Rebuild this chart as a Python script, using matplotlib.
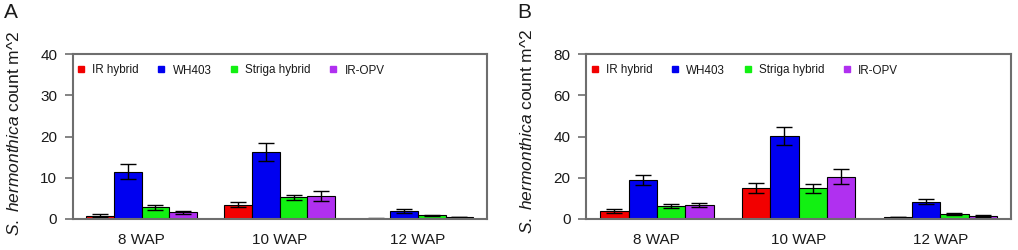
import matplotlib
matplotlib.use("Agg")
import matplotlib.pyplot as plt
from matplotlib.lines import Line2D
import numpy as np

plt.rcParams['font.family'] = ['Liberation Sans', 'DejaVu Sans']
plt.rcParams['mathtext.fontset'] = 'custom'
plt.rcParams['mathtext.it'] = 'Liberation Sans:italic'
plt.rcParams['mathtext.rm'] = 'Liberation Sans'

groups = ["8 WAP", "10 WAP", "12 WAP"]
series = ["IR hybrid", "WH403", "Striga hybrid", "IR-OPV"]
colors = ["#f20000", "#0000f0", "#12f012", "#b030f0"]

# Panel A values (rows = series, cols = groups)
a_vals = [[0.8, 3.5, 0.1],
          [11.5, 16.3, 2.0],
          [2.8, 5.3, 0.9],
          [1.6, 5.5, 0.5]]
a_err = [[0.3, 0.65, 0.05],
         [1.9, 2.2, 0.5],
         [0.5, 0.6, 0.1],
         [0.45, 1.2, 0.1]]
a_yticks = [0, 10, 20, 30, 40]

# Panel B values
b_vals = [[3.9, 14.9, 1.0],
          [18.9, 40.3, 8.3],
          [6.3, 14.9, 2.3],
          [6.7, 20.5, 1.5]]
b_err = [[0.9, 2.4, 0.2],
         [2.5, 4.4, 1.2],
         [0.9, 2.1, 0.4],
         [1.1, 3.7, 0.3]]
b_yticks = [0, 20, 40, 60, 80]

W, H = 1018, 250
fig = plt.figure(figsize=(W / 100, H / 100), dpi=100)

spine_col = "#6e6e6e"
text_col = "#1a1a1a"

def draw(ax, vals, errs, yticks):
    x = np.arange(len(groups))
    bw = 0.2
    for i, (v, e, c) in enumerate(zip(vals, errs, colors)):
        ax.bar(x + (i - 1.5) * bw, v, bw, color=c, edgecolor="black", linewidth=0.8,
               yerr=e, error_kw=dict(ecolor="black", elinewidth=1.0, capsize=6, capthick=1.0),
               zorder=2)
    ax.set_xlim(-0.5, 2.5)
    ax.set_ylim(0, yticks[-1])
    ax.set_yticks(yticks)
    ax.set_xticks(x)
    ax.set_xticklabels(groups)
    for s in ax.spines.values():
        s.set_color(spine_col)
        s.set_linewidth(1.5)
    ax.tick_params(axis='x', length=0, pad=10, labelsize=11, colors=text_col)
    ax.tick_params(axis='y', length=6, width=1.2, color=spine_col, pad=5, labelsize=11,
                   labelcolor=text_col)
    handles = [Line2D([], [], marker='s', ls='', color=c, markersize=4) for c in colors]
    ax.legend(handles, series, loc='center left', bbox_to_anchor=(0.012, 0.9),
              ncol=4, frameon=False, fontsize=8.4, handlelength=0.6, handletextpad=0.65,
              columnspacing=1.65, borderaxespad=0, borderpad=0, labelcolor=text_col)

bottom = 1 - 219 / H
height = (219 - 54) / H
axA = fig.add_axes([72.5 / W, bottom, (487 - 72.5) / W, height])
axB = fig.add_axes([586 / W, bottom, (1011 - 586) / W, height])
draw(axA, a_vals, a_err, a_yticks)
draw(axB, b_vals, b_err, b_yticks)

ylab = r"$\mathit{S.\ hermonthica}$ count m^2"
fig.text(14 / W, 1 - 133 / H, ylab, rotation=90, ha='center', va='center', fontsize=12.5, color=text_col)
fig.text(527 / W, 1 - 131 / H, ylab, rotation=90, ha='center', va='center', fontsize=12.5, color=text_col)
fig.text(4 / W, 1 - 3 / H, "A", ha='left', va='top', fontsize=15, color=text_col)
fig.text(517 / W, 1 - 3 / H, "B", ha='left', va='top', fontsize=15, color=text_col)

fig.savefig("out.png", dpi=100)
